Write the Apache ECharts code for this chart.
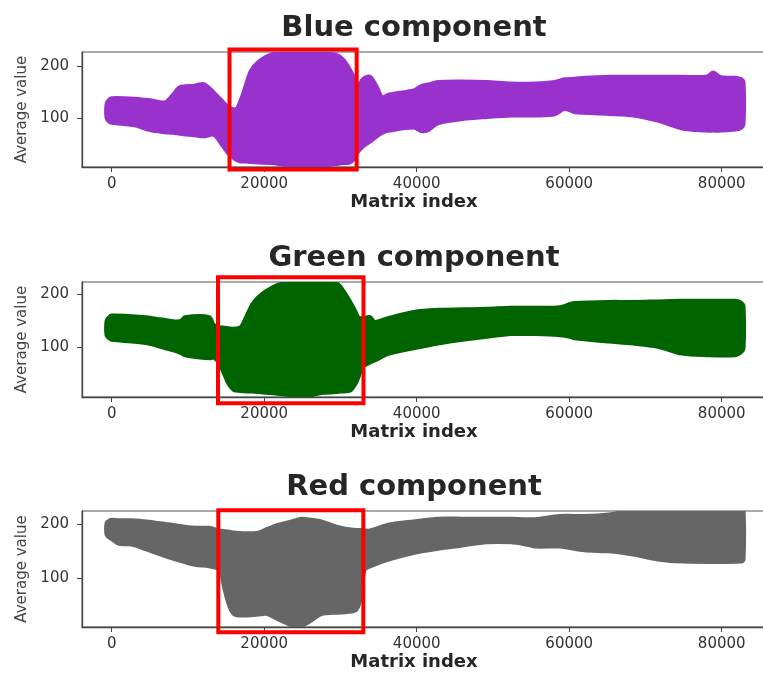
<!DOCTYPE html>
<html>
<head>
<meta charset="utf-8">
<script src="https://cdn.jsdelivr.net/npm/echarts@6/dist/echarts.min.js"></script>
<style>
html,body{margin:0;padding:0;background:#fff;}
#chart{width:763px;height:677px;}
</style>
</head>
<body>
<div id="chart"></div>
<script>
// ---- data ----
const panelTitles = ['Blue component', 'Green component', 'Red component'];
const xTickValues = [0, 20000, 40000, 60000, 80000];
const yTickValues = [100, 200];

const xBlue     = [-700, -350, 0, 3000, 5000, 7000, 8000, 8950, 10900, 12100, 13400, 14400, 15300, 16300, 16900, 17600, 18200, 19200, 21100, 23600, 26800, 29400, 30400, 31200, 31800, 32300, 32900, 33900, 34800, 35500, 36400, 39600, 40600, 41500, 42800, 46000, 49200, 52400, 55600, 58100, 59400, 60700, 62000, 65200, 68400, 71600, 74800, 78000, 78900, 79900, 81800, 82600, 82900];
const upperBlue = [128, 136, 139, 138, 135, 131, 145, 160, 163, 166, 150, 135, 122, 118, 135, 165, 190, 208, 223, 226, 224, 222, 212, 195, 178, 162, 175, 180, 160, 141, 146, 154, 162, 165, 170, 171, 170, 167, 167, 170, 175, 176, 178, 180, 180, 180, 180, 180, 188, 179, 178, 175, 168];
const lowerBlue = [100, 93, 91, 86, 77, 73, 72, 70, 67, 65, 68, 50, 32, 20, 17, 17, 16, 15, 14, 8, 7, 12, 14, 15, 22, 35, 45, 55, 65, 72, 76, 82, 75, 77, 90, 98, 102, 105, 105, 107, 118, 111, 110, 108, 105, 95, 80, 76, 76, 76, 78, 82, 90];

const xGreen     = [-700, -350, 0, 2600, 4500, 6400, 8300, 9100, 9600, 12800, 13400, 14100, 14700, 15300, 16000, 16900, 17600, 18500, 19800, 21700, 23600, 25600, 27500, 29400, 30000, 31300, 32000, 32400, 32900, 33900, 34500, 36400, 39600, 42800, 46000, 49200, 52400, 55600, 58800, 60100, 60700, 65200, 68400, 71600, 74800, 78000, 81800, 82600, 82900];
const upperGreen = [150, 157, 160, 159, 157, 153, 149, 150, 157, 157, 142, 138, 137, 136, 135, 138, 157, 183, 202, 218, 222, 222, 222, 221, 215, 186, 167, 156, 155, 157, 148, 156, 167, 171, 172, 173, 175, 175, 176, 182, 184, 186, 186, 187, 188, 188, 188, 184, 176];
const lowerGreen = [122, 116, 113, 110, 107, 100, 92, 88, 84, 78, 79, 68, 49, 30, 18, 16, 15, 15, 13, 11, 8, 7, 12, 14, 15, 17, 30, 43, 62, 70, 74, 87, 97, 106, 113, 119, 124, 124, 122, 119, 116, 110, 106, 100, 87, 84, 84, 90, 98];

const xRed     = [-700, -350, 0, 960, 2600, 4500, 7700, 10900, 12800, 14100, 14700, 15300, 16000, 17300, 19200, 20400, 21700, 23600, 24900, 26200, 27500, 30000, 32000, 32600, 33200, 33900, 36400, 39600, 42800, 46000, 49200, 52400, 54300, 55600, 58800, 62000, 65200, 68400, 71600, 74800, 82600, 82900];
const upperRed = [203, 207, 209, 208, 208, 206, 200, 194, 194, 189, 188, 187, 185, 184, 185, 192, 199, 206, 211, 209, 206, 194, 190, 190, 189, 189, 200, 206, 211, 211, 211, 211, 210, 210, 216, 216, 219, 226, 226, 226, 226, 226];
const lowerRed = [180, 175, 172, 163, 162, 153, 137, 124, 121, 115, 83, 51, 32, 29, 31, 32, 23, 11, 10, 20, 32, 35, 39, 58, 115, 121, 134, 146, 154, 160, 166, 166, 162, 158, 158, 151, 149, 143, 134, 130, 130, 135];

// highlighted boxes: [xStart, xEnd, yLow, yHigh]
const boxBlue  = [15450, 32130, 2, 231.5];
const boxGreen = [13940, 33020, -6.8, 232.3];
const boxRed   = [13980, 33000, -1.7, 226.2];

// ---- layout / style ----
const panels = [
  {x: xBlue,  up: upperBlue,  lo: lowerBlue,  box: boxBlue,  color: '#9932CC', top: 52,  height: 115, ymin: 6.9, ymax: 226.8, titleTop: 14},
  {x: xGreen, up: upperGreen, lo: lowerGreen, box: boxGreen, color: '#006400', top: 282, height: 115, ymin: 5.1, ymax: 223.3, titleTop: 244},
  {x: xRed,   up: upperRed,   lo: lowerRed,   box: boxRed,   color: '#666666', top: 511, height: 116, ymin: 8.2, ymax: 224.9, titleTop: 473}
];
const FONT = 'DejaVu Sans';

const option = {
  animation: false,
  backgroundColor: '#ffffff',
  textStyle: {fontFamily: FONT},
  title: [], grid: [], xAxis: [], yAxis: [], series: []
};

panels.forEach((p, i) => {
  option.title.push({
    text: panelTitles[i], left: 414, top: p.titleTop, textAlign: 'center', padding: 0,
    textStyle: {fontFamily: FONT, fontSize: 29, fontWeight: 'bold', color: '#262626'}
  });
  option.grid.push({
    left: 82, top: p.top, width: 693, height: p.height, outerBoundsMode: 'none', containLabel: false,
    show: true, borderColor: '#555', borderWidth: 1, backgroundColor: '#fff'
  });
  option.xAxis.push({
    type: 'value', gridIndex: i, min: -3895, max: 86990,
    name: 'Matrix index', nameLocation: 'middle', nameGap: 26,
    nameTextStyle: {fontFamily: FONT, fontSize: 18, fontWeight: 'bold', color: '#262626', padding: [0, 29, 0, 0]},
    axisLine: {show: true, onZero: false, lineStyle: {color: '#444', width: 1.3}},
    axisTick: {show: true, length: 5, lineStyle: {color: '#444'}, customValues: xTickValues},
    axisLabel: {fontFamily: FONT, fontSize: 15, color: '#333', margin: 10, customValues: xTickValues,
                formatter: v => String(v)},
    splitLine: {show: false}
  });
  option.yAxis.push({
    type: 'value', gridIndex: i, min: p.ymin, max: p.ymax,
    name: 'Average value', nameLocation: 'middle', nameGap: 44,
    nameTextStyle: {fontFamily: FONT, fontSize: 15, color: '#444'},
    axisLine: {show: true, onZero: false, lineStyle: {color: '#444', width: 1.3}},
    axisTick: {show: true, length: 5, lineStyle: {color: '#444'}, customValues: yTickValues},
    axisLabel: {fontFamily: FONT, fontSize: 15, color: '#333', margin: 13, customValues: yTickValues,
                formatter: v => String(v)},
    splitLine: {show: false}
  });
  // filled band between lower and upper envelopes
  option.series.push({
    type: 'custom', xAxisIndex: i, yAxisIndex: i, clip: true, silent: true, z: 2,
    data: p.x.map((x, k) => [x, p.lo[k], p.up[k]]),
    encode: {x: 0, y: [1, 2]},
    renderItem: (params, api) => {
      if (params.dataIndexInside !== 0) return null;
      const pts = [];
      for (let k = 0; k < p.x.length; k++) pts.push(api.coord([p.x[k], p.up[k]]));
      for (let k = p.x.length - 1; k >= 0; k--) pts.push(api.coord([p.x[k], p.lo[k]]));
      return {
        type: 'polygon',
        shape: {points: pts, smooth: 0.3},
        style: {fill: p.color, stroke: p.color, lineWidth: 3.5, lineJoin: 'round'}
      };
    }
  });
  // red highlight rectangle
  option.series.push({
    type: 'custom', xAxisIndex: i, yAxisIndex: i, clip: false, z: 10, silent: true,
    data: [p.box],
    renderItem: (params, api) => {
      const a = api.coord([api.value(0), api.value(3)]);
      const b = api.coord([api.value(1), api.value(2)]);
      return {
        type: 'rect',
        shape: {x: a[0], y: a[1], width: b[0] - a[0], height: b[1] - a[1]},
        style: {fill: 'none', stroke: '#ff0000', lineWidth: 4}
      };
    }
  });
});

const chart = echarts.init(document.getElementById('chart'), null, {renderer: 'canvas'});
chart.setOption(option);
</script>
</body>
</html>
